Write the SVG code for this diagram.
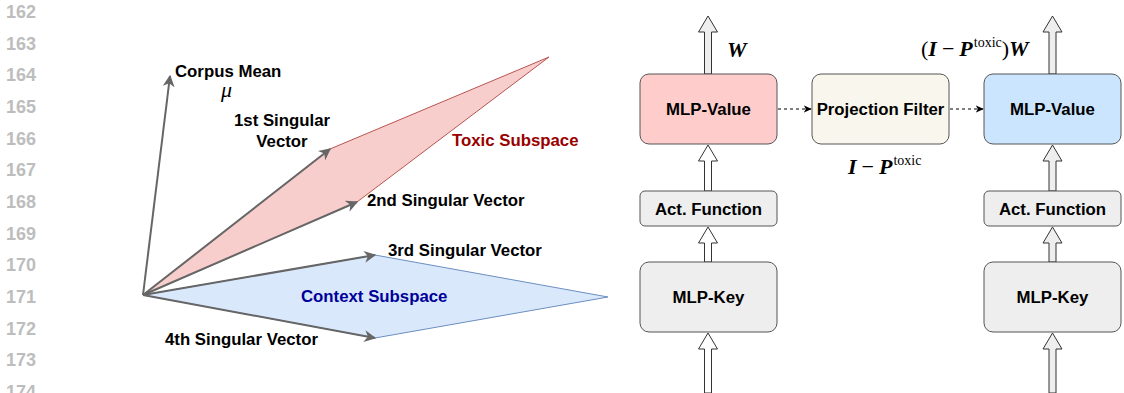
<svg xmlns="http://www.w3.org/2000/svg" width="1124" height="393" viewBox="0 0 1124 393">
<style>
.ln{font-family:"Liberation Sans",Arial,sans-serif;font-size:18px;font-weight:bold;fill:#bdbdbd}
.lb{font-family:"Liberation Sans",Arial,sans-serif;font-size:16.8px;font-weight:bold;fill:#000}
.bx{font-family:"Liberation Sans",Arial,sans-serif;font-size:16.8px;font-weight:bold;fill:#000;text-anchor:middle;dominant-baseline:central}
.m{font-family:"Liberation Serif","Times New Roman",serif;font-size:22px;fill:#000}
.bi{font-weight:bold;font-style:italic}
.sup{font-size:14px}
.vec{stroke:#666;stroke-width:2;fill:none;marker-end:url(#ah)}
.box{stroke:#555;stroke-width:1}
.blk{stroke:#333;stroke-width:1}
.dash{stroke:#000;stroke-width:1;stroke-dasharray:3 3;fill:none;marker-end:url(#dh)}
</style>
<defs>
<marker id="ah" viewBox="0 0 10 10" refX="9" refY="5" markerWidth="6" markerHeight="6" markerUnits="strokeWidth" orient="auto">
<path d="M0,0 L10,5 L0,10 L3,5 Z" fill="#666"/>
</marker>
<marker id="dh" viewBox="0 0 10 10" refX="9" refY="5" markerWidth="8" markerHeight="8" markerUnits="strokeWidth" orient="auto">
<path d="M0,0.5 L10,5 L0,9.5 L2.5,5 Z" fill="#000"/>
</marker>
</defs>

<g id="line-numbers">
<text class="ln" x="6" y="18">162</text>
<text class="ln" x="6" y="49.7">163</text>
<text class="ln" x="6" y="81.3">164</text>
<text class="ln" x="6" y="113">165</text>
<text class="ln" x="6" y="144.7">166</text>
<text class="ln" x="6" y="176.3">167</text>
<text class="ln" x="6" y="208">168</text>
<text class="ln" x="6" y="239.7">169</text>
<text class="ln" x="6" y="271.3">170</text>
<text class="ln" x="6" y="303">171</text>
<text class="ln" x="6" y="334.7">172</text>
<text class="ln" x="6" y="366.3">173</text>
<text class="ln" x="6" y="398">174</text>
</g>

<g id="toxic-subspace">
<polygon points="143,295 330,149 549,57 357,202" fill="#f8cecc" stroke="#b85450" stroke-width="1"/>
<text class="lb" x="452" y="146" style="fill:#990000">Toxic Subspace</text>
</g>
<g id="context-subspace">
<polygon points="143,295 375,255 608,297 375,338" fill="#dae8fc" stroke="#6c8ebf" stroke-width="1"/>
<text class="lb" x="301" y="302" style="fill:#000099">Context Subspace</text>
</g>

<g id="vectors">
<line class="vec" x1="143" y1="295" x2="170" y2="76"/>
<line class="vec" x1="143" y1="295" x2="330" y2="149"/>
<line class="vec" x1="143" y1="295" x2="357" y2="202"/>
<line class="vec" x1="143" y1="295" x2="375" y2="255"/>
<line class="vec" x1="143" y1="295" x2="375" y2="338"/>
</g>

<g id="vector-labels">
<text class="lb" x="175" y="77">Corpus Mean</text>
<text class="m" x="221" y="97" font-style="italic" font-size="18">μ</text>
<text class="lb" x="282" y="126" text-anchor="middle">1st Singular</text>
<text class="lb" x="282" y="147" text-anchor="middle">Vector</text>
<text class="lb" x="367" y="206">2nd Singular Vector</text>
<text class="lb" x="388" y="256">3rd Singular Vector</text>
<text class="lb" x="165" y="345">4th Singular Vector</text>
</g>

<g id="connectors">
<polygon class="blk" fill="#eeeeee" points="704.5,74 704.5,32 698.5,32 708,16 717.5,32 711.5,32 711.5,74"/>
<polygon class="blk" fill="#ffffff" points="704.5,191 704.5,161 698.5,161 708,145 717.5,161 711.5,161 711.5,191"/>
<polygon class="blk" fill="#ffffff" points="704.5,262 704.5,243 698.5,243 708,227 717.5,243 711.5,243 711.5,262"/>
<polygon class="blk" fill="#ffffff" points="704.5,393 704.5,349 698.5,349 708,333 717.5,349 711.5,349 711.5,393"/>
<polygon class="blk" fill="#eeeeee" points="1049,74 1049,32 1043,32 1052.5,16 1062,32 1056,32 1056,74"/>
<polygon class="blk" fill="#eeeeee" points="1049,191 1049,161 1043,161 1052.5,145 1062,161 1056,161 1056,191"/>
<polygon class="blk" fill="#eeeeee" points="1049,262 1049,243 1043,243 1052.5,227 1062,243 1056,243 1056,262"/>
<polygon class="blk" fill="#eeeeee" points="1049,393 1049,349 1043,349 1052.5,333 1062,349 1056,349 1056,393"/>
<line class="dash" x1="778" y1="109" x2="811" y2="109"/>
<line class="dash" x1="950" y1="109" x2="983" y2="109"/>
</g>

<g id="mlp-value-left">
<rect class="box" x="640" y="74" width="137" height="70" rx="9" fill="#ffcccc"/>
<text class="bx" x="708.5" y="109">MLP-Value</text>
</g>
<g id="projection-filter">
<rect class="box" x="812" y="74" width="137" height="70" rx="9" fill="#f9f7ed"/>
<text class="bx" x="880.5" y="109">Projection Filter</text>
</g>
<g id="mlp-value-right">
<rect class="box" x="984" y="74" width="137" height="70" rx="9" fill="#cce5ff"/>
<text class="bx" x="1052.5" y="109">MLP-Value</text>
</g>
<g id="act-left">
<rect class="box" x="640" y="191" width="137" height="35" rx="5" fill="#eeeeee"/>
<text class="bx" x="708.5" y="209">Act. Function</text>
</g>
<g id="act-right">
<rect class="box" x="984" y="191" width="137" height="35" rx="5" fill="#eeeeee"/>
<text class="bx" x="1052.5" y="209">Act. Function</text>
</g>
<g id="mlp-key-left">
<rect class="box" x="640" y="262" width="137" height="70" rx="9" fill="#eeeeee"/>
<text class="bx" x="708.5" y="297">MLP-Key</text>
</g>
<g id="mlp-key-right">
<rect class="box" x="984" y="262" width="137" height="70" rx="9" fill="#eeeeee"/>
<text class="bx" x="1052.5" y="297">MLP-Key</text>
</g>

<g id="math-labels">
<text class="m" x="727" y="57"><tspan class="bi">W</tspan></text>
<text class="m" x="848" y="174"><tspan class="bi">I</tspan><tspan dx="5">−</tspan><tspan class="bi" dx="5">P</tspan><tspan class="sup" dx="1" dy="-9">toxic</tspan></text>
<text class="m" x="921" y="56">(<tspan class="bi">I</tspan><tspan dx="5">−</tspan><tspan class="bi" dx="5">P</tspan><tspan class="sup" dx="1" dy="-9">toxic</tspan><tspan dy="9">)</tspan><tspan class="bi">W</tspan></text>
</g>
</svg>
